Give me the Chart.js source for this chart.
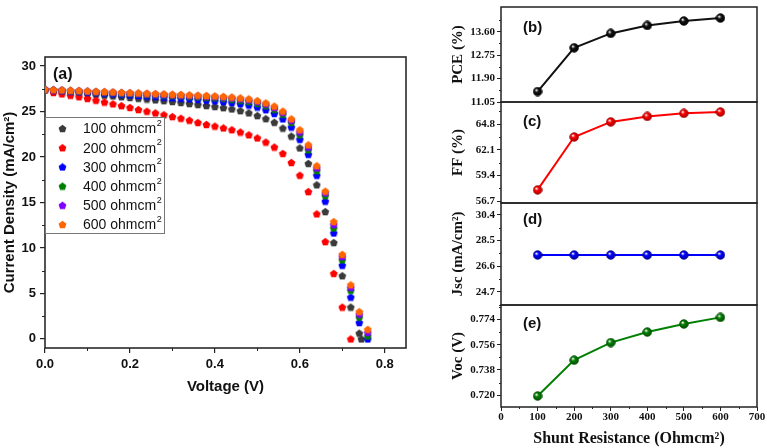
<!DOCTYPE html>
<html>
<head>
<meta charset="utf-8">
<script src="https://cdn.jsdelivr.net/npm/chart.js@4.4.1/dist/chart.umd.min.js"></script>
<style>
html, body { margin: 0; padding: 0; background: #fff; }
body { width: 767px; height: 448px; position: relative; overflow: hidden; }
.box { position: absolute; }
</style>
</head>
<body>
<div class="box" style="left:0;top:0;width:430px;height:448px"><canvas id="jv"></canvas></div>
<div class="box" style="left:440px;top:0;width:327px;height:111px"><canvas id="pce"></canvas></div>
<div class="box" style="left:440px;top:95px;width:327px;height:117px"><canvas id="ff"></canvas></div>
<div class="box" style="left:440px;top:196px;width:327px;height:118px"><canvas id="jsc"></canvas></div>
<div class="box" style="left:440px;top:298px;width:327px;height:150px"><canvas id="voc"></canvas></div>
<script>
// J-V curves, panel (a)
const volt = [0.00, 0.02, 0.04, 0.06, 0.08, 0.10, 0.12, 0.14, 0.16, 0.18,
              0.20, 0.22, 0.24, 0.26, 0.28, 0.30, 0.32, 0.34, 0.36, 0.38,
              0.40, 0.42, 0.44, 0.46, 0.48, 0.50, 0.52, 0.54, 0.56, 0.58,
              0.60, 0.62, 0.64, 0.66, 0.68, 0.70, 0.72, 0.74, 0.76];
const j100 = [27.40, 27.32, 27.23, 27.14, 27.06, 26.97, 26.89, 26.80, 26.72, 26.63,
              26.55, 26.46, 26.38, 26.29, 26.20, 26.11, 26.00, 25.88, 25.77, 25.66,
              25.55, 25.43, 25.29, 25.10, 24.86, 24.56, 24.22, 23.82, 23.18, 22.30,
              21.00, 19.30, 16.95, 14.00, 10.60, 6.95, 3.50, 0.63, null];
const j200 = [27.40, 27.10, 26.95, 26.80, 26.63, 26.45, 26.25, 26.05, 25.85, 25.65,
              25.45, 25.22, 25.04, 24.85, 24.65, 24.45, 24.27, 24.05, 23.80, 23.58,
              23.40, 23.20, 23.00, 22.75, 22.45, 22.10, 21.65, 21.10, 20.40, 19.40,
              18.00, 16.20, 13.75, 10.70, 7.20, 3.50, 0.00, null, null];
const j300 = [27.42, 27.37, 27.31, 27.25, 27.19, 27.13, 27.07, 27.01, 26.95, 26.89,
              26.83, 26.77, 26.71, 26.65, 26.58, 26.52, 26.46, 26.40, 26.33, 26.26,
              26.18, 26.09, 25.99, 25.87, 25.72, 25.50, 25.20, 24.80, 24.20, 23.30,
              21.95, 20.30, 18.00, 15.15, 11.65, 8.10, 4.60, 1.80, 0.00];
const j400 = [27.43, 27.39, 27.35, 27.30, 27.26, 27.21, 27.17, 27.12, 27.08, 27.03,
              26.99, 26.94, 26.90, 26.85, 26.81, 26.76, 26.72, 26.67, 26.62, 26.57,
              26.51, 26.44, 26.36, 26.25, 26.10, 25.90, 25.62, 25.25, 24.70, 23.80,
              22.45, 20.80, 18.50, 15.75, 12.20, 8.70, 5.35, 2.40, 0.33];
const j500 = [27.44, 27.40, 27.37, 27.33, 27.29, 27.25, 27.21, 27.17, 27.13, 27.09,
              27.05, 27.01, 26.97, 26.93, 26.89, 26.85, 26.81, 26.77, 26.73, 26.69,
              26.64, 26.58, 26.50, 26.40, 26.28, 26.08, 25.82, 25.45, 24.90, 24.02,
              22.75, 21.10, 18.80, 16.05, 12.57, 9.05, 5.65, 2.72, 0.70];
const j600 = [27.45, 27.41, 27.38, 27.34, 27.31, 27.27, 27.23, 27.20, 27.16, 27.12,
              27.09, 27.05, 27.02, 26.98, 26.95, 26.91, 26.88, 26.84, 26.80, 26.76,
              26.72, 26.67, 26.60, 26.50, 26.40, 26.20, 25.95, 25.60, 25.05, 24.20,
              23.00, 21.35, 19.05, 16.25, 12.90, 9.30, 5.95, 3.00, 1.05];
// the 100 ohmcm2 curve has one extra point where it meets zero
const tail100 = [0.745, 0.00];
const jvLabels = ['100 ohmcm²', '200 ohmcm²', '300 ohmcm²', '400 ohmcm²', '500 ohmcm²', '600 ohmcm²'];
const jvColors = ['#3a3a3a', '#ff0000', '#0000ff', '#007f00', '#7f00ff', '#ff6600'];
const jvXTicks = [0, 0.2, 0.4, 0.6, 0.8];
const jvYTicks = [0, 5, 10, 15, 20, 25, 30];

// device parameters vs shunt resistance, panels (b)-(e)
const shunt = [100, 200, 300, 400, 500, 600];
const pce = [11.43, 13.02, 13.54, 13.83, 13.99, 14.10];
const ff = [57.87, 63.46, 65.05, 65.63, 65.95, 66.09];
const jsc = [27.43, 27.43, 27.43, 27.43, 27.43, 27.43];
const voc = [0.7195, 0.7450, 0.7575, 0.7650, 0.7707, 0.7754];
const shuntTicks = [0, 100, 200, 300, 400, 500, 600, 700];
const pceTicks = [11.05, 11.90, 12.75, 13.60];
const ffTicks = [56.7, 59.4, 62.1, 64.8];
const jscTicks = [24.7, 26.6, 28.5, 30.4];
const vocTicks = [0.720, 0.738, 0.756, 0.774];

Chart.defaults.animation = false;
Chart.defaults.devicePixelRatio = 1;
Chart.defaults.color = '#111';
Chart.defaults.font.family = 'Liberation Sans';

function pentagon(color) {
  const c = document.createElement('canvas');
  c.width = 9; c.height = 9;
  const g = c.getContext('2d');
  g.fillStyle = color;
  g.beginPath();
  for (let k = 0; k < 5; k++) {
    const a = -Math.PI / 2 + k * 2 * Math.PI / 5;
    g.lineTo(4.5 + 4.1 * Math.cos(a), 4.9 + 4.1 * Math.sin(a));
  }
  g.closePath();
  g.fill();
  return c;
}

function ball(color, dark) {
  const c = document.createElement('canvas');
  c.width = 10; c.height = 10;
  const g = c.getContext('2d');
  const grd = g.createRadialGradient(3.6, 3.4, 0.3, 5, 5, 4.8);
  grd.addColorStop(0, '#ffffff');
  grd.addColorStop(0.35, color);
  grd.addColorStop(1, dark);
  g.fillStyle = grd;
  g.beginPath();
  g.arc(5, 5, 4.3, 0, Math.PI * 2);
  g.fill();
  g.strokeStyle = dark;
  g.lineWidth = 0.8;
  g.stroke();
  return c;
}

// box around the plot area
const frame = {
  id: 'frame',
  beforeDatasetsDraw(chart, args, opts) {
    const { ctx, chartArea: a } = chart;
    ctx.save();
    ctx.strokeStyle = opts.color || '#222';
    ctx.lineWidth = opts.width || 1.5;
    ctx.strokeRect(a.left, a.top, a.right - a.left, a.bottom - a.top);
    ctx.restore();
  }
};

// short ticks half way between the major ones
const minorTicks = {
  id: 'minorTicks',
  afterDraw(chart, args, opts) {
    const ctx = chart.ctx;
    (opts.scales || []).forEach(id => {
      const s = chart.scales[id];
      const t = s.ticks;
      if (!t || t.length < 2) return;
      const step = t[1].value - t[0].value;
      ctx.save();
      ctx.strokeStyle = '#222';
      ctx.lineWidth = 1;
      for (let v = t[0].value - step / 2; v <= t[t.length - 1].value + step; v += step) {
        if (v < s.min || v > s.max) continue;
        const p = Math.round(s.getPixelForValue(v)) + 0.5;
        ctx.beginPath();
        if (s.isHorizontal()) { ctx.moveTo(p, s.top); ctx.lineTo(p, s.top + (opts.len || 3)); }
        else { ctx.moveTo(s.right, p); ctx.lineTo(s.right - (opts.len || 3), p); }
        ctx.stroke();
      }
      ctx.restore();
    });
  }
};

const panelTag = {
  id: 'panelTag',
  afterDraw(chart, args, opts) {
    if (!opts.text) return;
    const { ctx, chartArea: a } = chart;
    ctx.save();
    ctx.font = 'bold ' + (opts.size || 15) + 'px "Liberation Sans"';
    ctx.fillStyle = '#111';
    ctx.textBaseline = 'middle';
    ctx.fillText(opts.text, a.left + opts.dx, a.top + opts.dy);
    ctx.restore();
  }
};

// boxed legend inside the plot, like the original
const boxLegend = {
  id: 'boxLegend',
  afterDraw(chart, args, opts) {
    const { ctx, chartArea: a } = chart;
    const x0 = a.left, y0 = opts.top;
    ctx.save();
    ctx.fillStyle = '#fff';
    ctx.fillRect(x0, y0, opts.width, opts.height);
    ctx.strokeStyle = '#777';
    ctx.lineWidth = 1;
    ctx.strokeRect(x0 + 0.5, y0 + 0.5, opts.width, opts.height);
    chart.data.datasets.forEach((ds, i) => {
      const cy = y0 + 11.5 + i * 19.2;
      ctx.drawImage(ds.pointStyle, x0 + 17.5 - 4.5, cy - 4.5);
      let txt = ds.label, sup = '';
      if (txt.endsWith('²')) { sup = '2'; txt = txt.slice(0, -1); }
      ctx.fillStyle = '#111';
      ctx.textBaseline = 'middle';
      ctx.font = '14px "Liberation Sans"';
      ctx.fillText(txt, x0 + 38, cy + 1);
      const w = ctx.measureText(txt).width;
      ctx.font = '9px "Liberation Sans"';
      ctx.fillText(sup, x0 + 38 + w + 0.5, cy - 5);
    });
    ctx.restore();
  }
};

const jvSeries = [j100, j200, j300, j400, j500, j600];
const jvDatasets = jvSeries.map((js, i) => {
  const pts = volt.map((v, k) => ({ x: v, y: js[k] })).filter(p => p.y !== null);
  if (i === 0) pts.push({ x: tail100[0], y: tail100[1] });
  return {
    label: jvLabels[i],
    data: pts,
    pointStyle: pentagon(jvColors[i]),
    pointRadius: 4,
    showLine: false,
    order: 5 - i
  };
});

new Chart(document.getElementById('jv'), {
  type: 'scatter',
  data: { datasets: jvDatasets },
  options: {
    responsive: true,
    maintainAspectRatio: false,
    layout: { padding: { top: 57, right: 24, bottom: 0, left: 0 } },
    plugins: {
      legend: { display: false },
      tooltip: { enabled: false },
      frame: { color: '#2a2a2a', width: 1.6 },
      minorTicks: { scales: ['x', 'y'], len: 3 },
      panelTag: { text: '(a)', dx: 8, dy: 18, size: 16 },
      boxLegend: { top: 117, width: 119, height: 116 }
    },
    scales: {
      x: {
        type: 'linear', min: 0, max: 0.85,
        afterBuildTicks: s => { s.ticks = jvXTicks.map(v => ({ value: v })); },
        afterFit: s => { s.height = 100; },
        grid: { drawOnChartArea: false, tickLength: 5, color: '#222', lineWidth: 1.2 },
        border: { display: false },
        ticks: { padding: 4, font: { size: 13, weight: 'bold' }, callback: v => v.toFixed(1) },
        title: { display: true, text: 'Voltage (V)', font: { size: 15, weight: 'bold' }, padding: { top: 4, bottom: 52 } }
      },
      y: {
        type: 'linear', min: -1, max: 31,
        afterBuildTicks: s => { s.ticks = jvYTicks.map(v => ({ value: v })); },
        afterFit: s => { s.width = 45; },
        grid: { drawOnChartArea: false, tickLength: 5, color: '#222', lineWidth: 1.2 },
        border: { display: false },
        ticks: { padding: 4, font: { size: 13, weight: 'bold' } },
        title: { display: true, text: 'Current Density (mA/cm²)', font: { size: 15, weight: 'bold' }, padding: { top: 1, bottom: 0 } }
      }
    }
  },
  plugins: [frame, minorTicks, panelTag, boxLegend]
});

function sidePanel(id, values, color, dark, yTitle, yTicks, yMin, yMax, tag, tagDy, padTop, padBottom, last) {
  const serif = 'Liberation Serif';
  return new Chart(document.getElementById(id), {
    type: 'line',
    data: {
      datasets: [{
        data: shunt.map((s, k) => ({ x: s, y: values[k] })),
        borderColor: color,
        borderWidth: 2,
        pointStyle: ball(color, dark),
        pointRadius: 5,
        tension: 0
      }]
    },
    options: {
      responsive: true,
      maintainAspectRatio: false,
      layout: { padding: { top: padTop, right: 10, bottom: padBottom, left: 0 } },
      plugins: {
        legend: { display: false },
        tooltip: { enabled: false },
        frame: { color: '#222', width: 1.5 },
        minorTicks: { scales: last ? ['x', 'y'] : ['y'], len: 2 },
        panelTag: { text: tag, dx: 22, dy: tagDy, size: 15 }
      },
      scales: {
        x: {
          type: 'linear', min: 0, max: 700,
          display: !!last,
          afterBuildTicks: s => { s.ticks = shuntTicks.map(v => ({ value: v })); },
          afterFit: s => { s.height = last ? 41 : 0; s.paddingLeft = 0; s.paddingRight = 0; },
          grid: { drawOnChartArea: false, tickLength: 4, color: '#222' },
          border: { display: false },
          ticks: { padding: 0, font: { family: serif, size: 11, weight: 'bold' } },
          title: { display: true, text: 'Shunt Resistance (Ohmcm²)', font: { family: serif, size: 16, weight: 'bold' }, padding: { top: 0, bottom: 0 } }
        },
        y: {
          type: 'linear', min: yMin, max: yMax,
          afterBuildTicks: s => { s.ticks = yTicks.map(v => ({ value: v })); },
          afterFit: s => { s.width = 61; s.paddingTop = 0; s.paddingBottom = 0; },
          grid: { drawOnChartArea: false, tickLength: 4, color: '#222' },
          border: { display: false },
          ticks: {
            padding: 2,
            font: { family: serif, size: 11, weight: 'bold' },
            callback: v => v.toFixed(yTicks === pceTicks ? 2 : (yTicks === vocTicks ? 3 : 1))
          },
          title: { display: true, text: yTitle, font: { family: serif, size: 15, weight: 'bold' }, padding: { top: 9, bottom: 0 } }
        }
      }
    },
    plugins: [frame, minorTicks, panelTag]
  });
}

sidePanel('pce', pce, '#111111', '#000000', 'PCE (%)', pceTicks, 11.05, 14.50, '(b)', 21, 1, 9, false);
sidePanel('ff', ff, '#ff0000', '#a00000', 'FF (%)', ffTicks, 56.49, 67.15, '(c)', 20, 7, 9, false);
sidePanel('jsc', jsc, '#0000ff', '#00009a', 'Jsc (mA/cm²)', jscTicks, 23.74, 31.26, '(d)', 17, 7, 9, false);
sidePanel('voc', voc, '#008000', '#004d00', 'Voc (V)', vocTicks, 0.7117, 0.7842, '(e)', 19, 7, 0, true);
</script>
</body>
</html>
